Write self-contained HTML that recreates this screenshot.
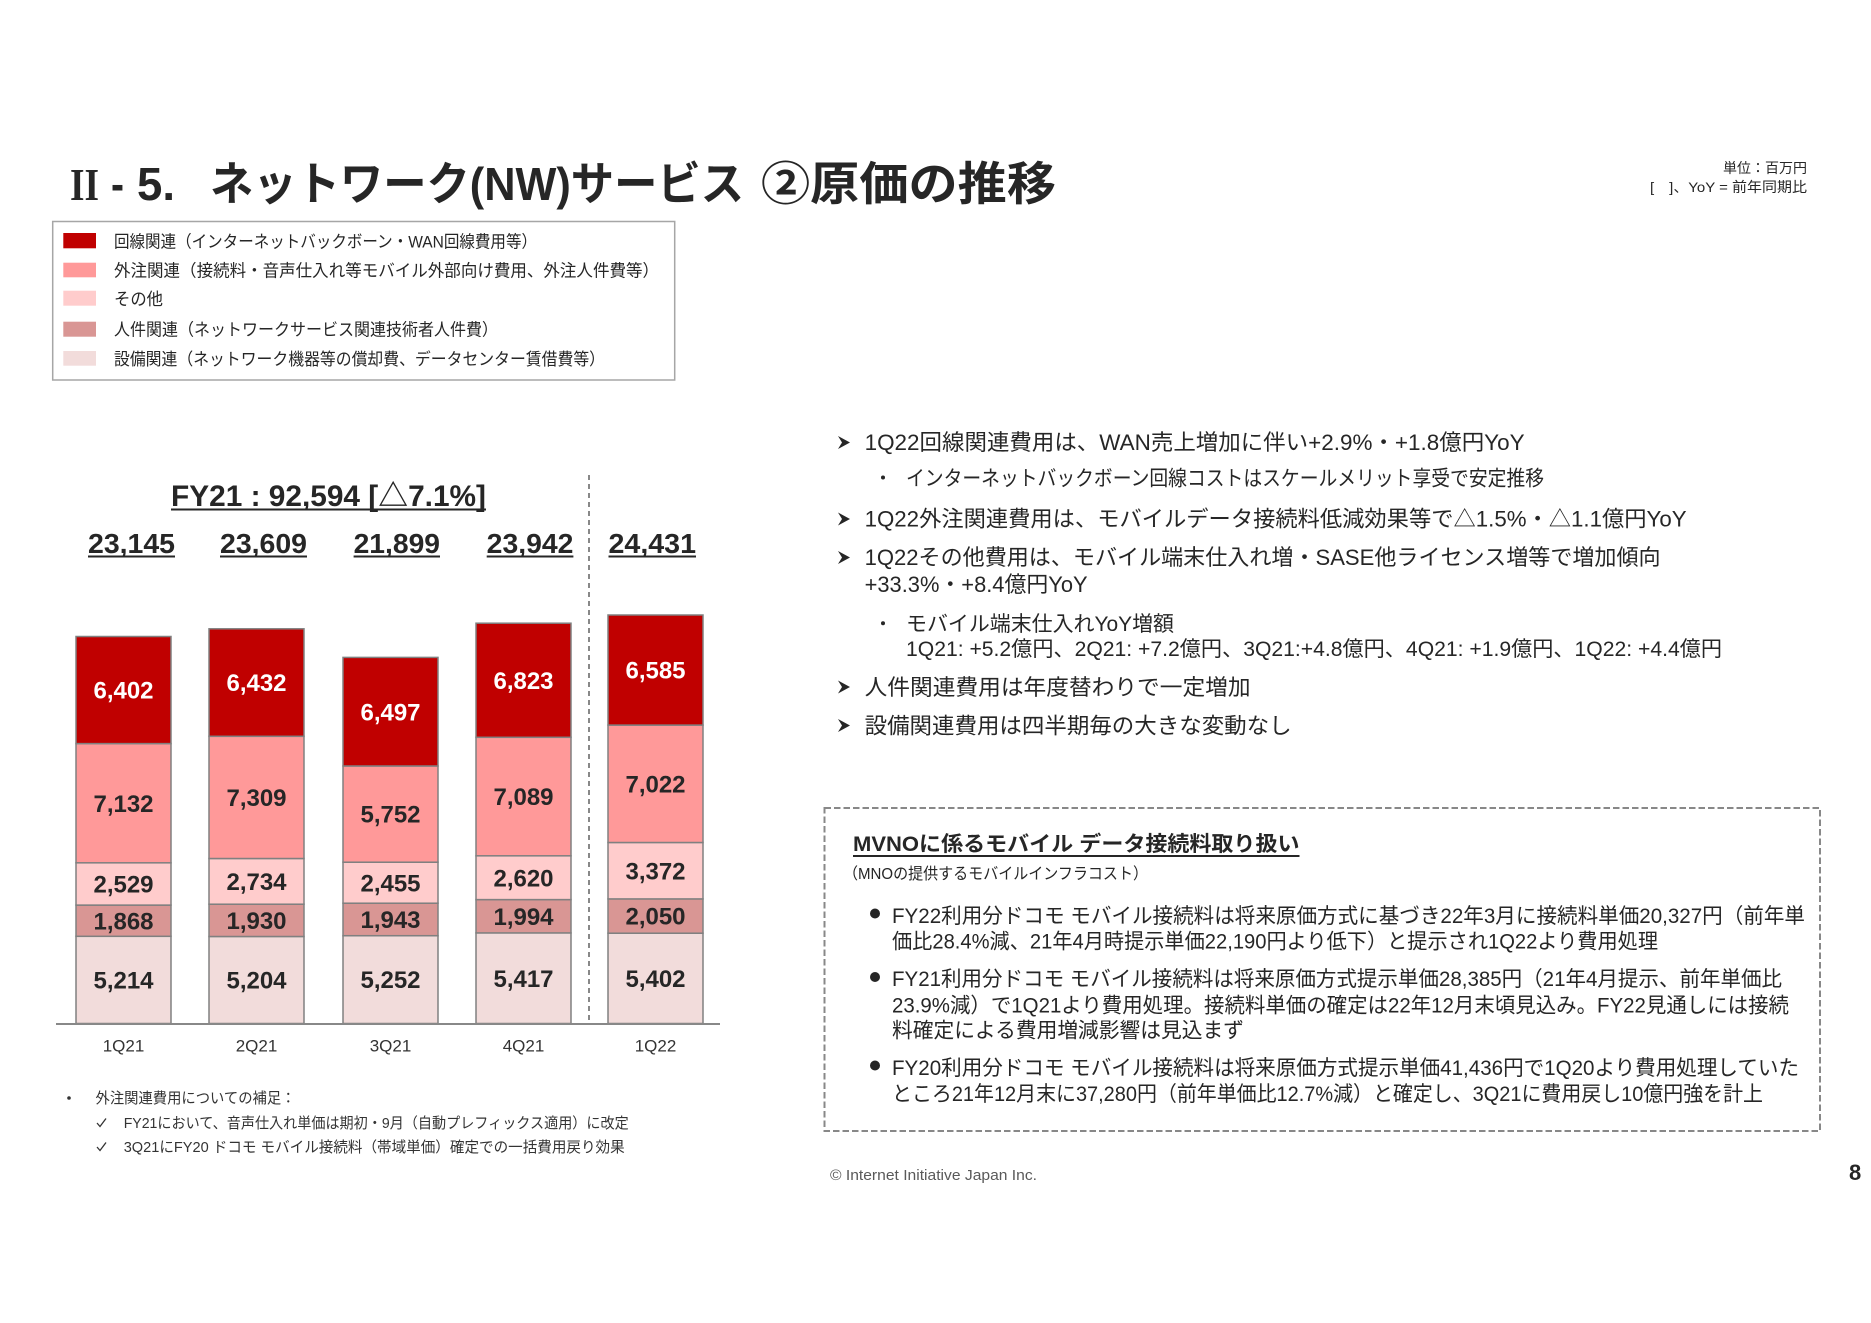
<!DOCTYPE html>
<html><head><meta charset="utf-8"><style>
html,body{margin:0;padding:0;background:#fff;}
svg{display:block;}
text{font-family:"Liberation Sans","Noto Sans CJK JP",sans-serif;fill:#262626;}
.b{font-weight:bold;}
.w{fill:#fff;}
</style></head><body>
<svg width="1871" height="1323" viewBox="0 0 1871 1323" xmlns="http://www.w3.org/2000/svg">
<rect width="1871" height="1323" fill="#fff"/>

<!-- Title -->
<text x="70" y="200" font-size="46" class="b" textLength="29" lengthAdjust="spacingAndGlyphs" style="font-family:'Liberation Serif',serif">II</text>
<text x="111" y="200" font-size="46" class="b" textLength="13" lengthAdjust="spacingAndGlyphs">-</text>
<text x="137" y="200" font-size="46" class="b" textLength="38" lengthAdjust="spacingAndGlyphs">5.</text>
<text x="210" y="200" font-size="46" class="b" textLength="534" lengthAdjust="spacingAndGlyphs">ネットワーク(NW)サービス</text>
<text x="761" y="200" font-size="46" class="b" textLength="295" lengthAdjust="spacingAndGlyphs">②原価の推移</text>

<!-- Unit -->
<text x="1807" y="173" font-size="14" text-anchor="end" textLength="84" lengthAdjust="spacingAndGlyphs">単位：百万円</text>
<text x="1807" y="192" font-size="14" text-anchor="end" textLength="157" lengthAdjust="spacingAndGlyphs">[　]、YoY = 前年同期比</text>

<!-- Legend -->
<rect x="52.7" y="221.5" width="622" height="158.5" fill="#fff" stroke="#a6a6a6" stroke-width="1.5"/>
<rect x="63.3" y="233" width="32.7" height="15.3" fill="#C00000"/>
<rect x="63.3" y="262.7" width="32.7" height="14.6" fill="#FF9999"/>
<rect x="63.3" y="290.7" width="32.7" height="15" fill="#FFCCCC"/>
<rect x="63.3" y="321.7" width="32.7" height="15" fill="#D99694"/>
<rect x="63.3" y="351" width="32.7" height="14.7" fill="#F2DCDB"/>
<text x="114" y="247.5" font-size="17" textLength="423" lengthAdjust="spacingAndGlyphs">回線関連（インターネットバックボーン・WAN回線費用等）</text>
<text x="114" y="276.5" font-size="17" textLength="545" lengthAdjust="spacingAndGlyphs">外注関連（接続料・音声仕入れ等モバイル外部向け費用、外注人件費等）</text>
<text x="114" y="305" font-size="17" textLength="49" lengthAdjust="spacingAndGlyphs">その他</text>
<text x="114" y="335.5" font-size="17" textLength="384" lengthAdjust="spacingAndGlyphs">人件関連（ネットワークサービス関連技術者人件費）</text>
<text x="114" y="365" font-size="17" textLength="491" lengthAdjust="spacingAndGlyphs">設備関連（ネットワーク機器等の償却費、データセンター賃借費等）</text>

<!-- FY21 label -->
<text x="171" y="506" font-size="30" class="b" textLength="315" lengthAdjust="spacingAndGlyphs">FY21 : 92,594 [△7.1%]</text>
<line x1="171" y1="509.5" x2="486" y2="509.5" stroke="#262626" stroke-width="2"/>

<!-- Totals -->
<g font-size="28" class="b">
<text x="88" y="553" class="b" textLength="87" lengthAdjust="spacingAndGlyphs">23,145</text>
<text x="220" y="553" class="b" textLength="87" lengthAdjust="spacingAndGlyphs">23,609</text>
<text x="353.6" y="553" class="b" textLength="86.4" lengthAdjust="spacingAndGlyphs">21,899</text>
<text x="486.7" y="553" class="b" textLength="86.7" lengthAdjust="spacingAndGlyphs">23,942</text>
<text x="608.5" y="553" class="b" textLength="87.5" lengthAdjust="spacingAndGlyphs">24,431</text>
</g>
<g stroke="#262626" stroke-width="2">
<line x1="88" y1="556.5" x2="175" y2="556.5"/>
<line x1="220" y1="556.5" x2="307" y2="556.5"/>
<line x1="353.6" y1="556.5" x2="440" y2="556.5"/>
<line x1="486.7" y1="556.5" x2="573.4" y2="556.5"/>
<line x1="608.5" y1="556.5" x2="696" y2="556.5"/>
</g>

<!-- Dashed separator -->
<line x1="589" y1="475" x2="589" y2="1022" stroke="#888" stroke-width="2" stroke-dasharray="5 4"/>

<!-- Bars -->
<g stroke="#808080" stroke-width="1.5">
<rect x="76" y="936.3" width="95" height="87.2" fill="#F2DCDB"/>
<rect x="76" y="905.1" width="95" height="31.2" fill="#D99694"/>
<rect x="76" y="862.8" width="95" height="42.3" fill="#FFCCCC"/>
<rect x="76" y="743.6" width="95" height="119.2" fill="#FF9999"/>
<rect x="76" y="636.5" width="95" height="107.1" fill="#C00000"/>

<rect x="209" y="936.5" width="95" height="87" fill="#F2DCDB"/>
<rect x="209" y="904.2" width="95" height="32.3" fill="#D99694"/>
<rect x="209" y="858.5" width="95" height="45.7" fill="#FFCCCC"/>
<rect x="209" y="736.3" width="95" height="122.2" fill="#FF9999"/>
<rect x="209" y="628.8" width="95" height="107.5" fill="#C00000"/>

<rect x="343" y="935.7" width="95" height="87.8" fill="#F2DCDB"/>
<rect x="343" y="903.2" width="95" height="32.5" fill="#D99694"/>
<rect x="343" y="862.2" width="95" height="41" fill="#FFCCCC"/>
<rect x="343" y="766" width="95" height="96.2" fill="#FF9999"/>
<rect x="343" y="657.4" width="95" height="108.6" fill="#C00000"/>

<rect x="476" y="932.9" width="95" height="90.6" fill="#F2DCDB"/>
<rect x="476" y="899.6" width="95" height="33.3" fill="#D99694"/>
<rect x="476" y="855.8" width="95" height="43.8" fill="#FFCCCC"/>
<rect x="476" y="737.3" width="95" height="118.5" fill="#FF9999"/>
<rect x="476" y="623.2" width="95" height="114.1" fill="#C00000"/>

<rect x="608" y="933.2" width="95" height="90.3" fill="#F2DCDB"/>
<rect x="608" y="898.9" width="95" height="34.3" fill="#D99694"/>
<rect x="608" y="842.5" width="95" height="56.4" fill="#FFCCCC"/>
<rect x="608" y="725.1" width="95" height="117.4" fill="#FF9999"/>
<rect x="608" y="615" width="95" height="110.1" fill="#C00000"/>
</g>

<!-- Bar labels -->
<g font-size="24" text-anchor="middle">
<text x="123.5" y="988.5" class="b">5,214</text>
<text x="123.5" y="929.3" class="b">1,868</text>
<text x="123.5" y="892.6" class="b">2,529</text>
<text x="123.5" y="811.8" class="b">7,132</text>
<text x="123.5" y="698.6" class="b w">6,402</text>

<text x="256.5" y="988.6" class="b">5,204</text>
<text x="256.5" y="929" class="b">1,930</text>
<text x="256.5" y="890" class="b">2,734</text>
<text x="256.5" y="806" class="b">7,309</text>
<text x="256.5" y="691.2" class="b w">6,432</text>

<text x="390.5" y="988.2" class="b">5,252</text>
<text x="390.5" y="928" class="b">1,943</text>
<text x="390.5" y="891.3" class="b">2,455</text>
<text x="390.5" y="822.7" class="b">5,752</text>
<text x="390.5" y="720.3" class="b w">6,497</text>

<text x="523.5" y="986.8" class="b">5,417</text>
<text x="523.5" y="924.9" class="b">1,994</text>
<text x="523.5" y="886.3" class="b">2,620</text>
<text x="523.5" y="805.2" class="b">7,089</text>
<text x="523.5" y="688.9" class="b w">6,823</text>

<text x="655.5" y="987" class="b">5,402</text>
<text x="655.5" y="924.7" class="b">2,050</text>
<text x="655.5" y="879.3" class="b">3,372</text>
<text x="655.5" y="792.4" class="b">7,022</text>
<text x="655.5" y="678.7" class="b w">6,585</text>
</g>

<!-- Axis -->
<line x1="56" y1="1024" x2="720" y2="1024" stroke="#888" stroke-width="2"/>
<g font-size="17" text-anchor="middle">
<text x="123.5" y="1051.6" style="fill:#333">1Q21</text>
<text x="256.5" y="1051.6" style="fill:#333">2Q21</text>
<text x="390.5" y="1051.6" style="fill:#333">3Q21</text>
<text x="523.5" y="1051.6" style="fill:#333">4Q21</text>
<text x="655.5" y="1051.6" style="fill:#333">1Q22</text>
</g>

<!-- Footnotes -->
<circle cx="69" cy="1098" r="1.8" fill="#333"/>
<text x="95.5" y="1103" font-size="15" textLength="200" lengthAdjust="spacingAndGlyphs" style="fill:#333">外注関連費用についての補足：</text>
<path d="M97 1123 l3 3.5 l6 -8" fill="none" stroke="#333" stroke-width="1.3"/>
<text x="123.7" y="1128" font-size="15" textLength="505" lengthAdjust="spacingAndGlyphs" style="fill:#333">FY21において、音声仕入れ単価は期初・9月（自動プレフィックス適用）に改定</text>
<path d="M97 1147 l3 3.5 l6 -8" fill="none" stroke="#333" stroke-width="1.3"/>
<text x="123.7" y="1152" font-size="15" textLength="501" lengthAdjust="spacingAndGlyphs" style="fill:#333">3Q21にFY20 ドコモ モバイル接続料（帯域単価）確定での一括費用戻り効果</text>

<!-- Right bullets -->
<g fill="#262626">
<path d="M838 436 L850 442.5 L838 449 L842 442.5 Z"/>
<path d="M838 512.5 L850 519 L838 525.5 L842 519 Z"/>
<path d="M838 551 L850 557.5 L838 564 L842 557.5 Z"/>
<path d="M838 680.5 L850 687 L838 693.5 L842 687 Z"/>
<path d="M838 719 L850 725.5 L838 732 L842 725.5 Z"/>
<circle cx="883" cy="477.5" r="2"/>
<circle cx="883" cy="623.3" r="2"/>
</g>
<text x="864.6" y="450" font-size="22" textLength="660" lengthAdjust="spacingAndGlyphs">1Q22回線関連費用は、WAN売上増加に伴い+2.9%・+1.8億円YoY</text>
<text x="906" y="485.5" font-size="21" textLength="638" lengthAdjust="spacingAndGlyphs">インターネットバックボーン回線コストはスケールメリット享受で安定推移</text>
<text x="864.6" y="526.5" font-size="22" textLength="822" lengthAdjust="spacingAndGlyphs">1Q22外注関連費用は、モバイルデータ接続料低減効果等で△1.5%・△1.1億円YoY</text>
<text x="864.6" y="565" font-size="22" textLength="796" lengthAdjust="spacingAndGlyphs">1Q22その他費用は、モバイル端末仕入れ増・SASE他ライセンス増等で増加傾向</text>
<text x="864.6" y="592" font-size="22" textLength="223" lengthAdjust="spacingAndGlyphs">+33.3%・+8.4億円YoY</text>
<text x="906" y="631" font-size="21" textLength="268" lengthAdjust="spacingAndGlyphs">モバイル端末仕入れYoY増額</text>
<text x="906" y="656" font-size="21" textLength="816" lengthAdjust="spacingAndGlyphs">1Q21: +5.2億円、2Q21: +7.2億円、3Q21:+4.8億円、4Q21: +1.9億円、1Q22: +4.4億円</text>
<text x="864.6" y="695" font-size="22" textLength="386" lengthAdjust="spacingAndGlyphs">人件関連費用は年度替わりで一定増加</text>
<text x="864.6" y="733.5" font-size="22" textLength="427" lengthAdjust="spacingAndGlyphs">設備関連費用は四半期毎の大きな変動なし</text>

<!-- MVNO box -->
<rect x="824.5" y="808" width="995.5" height="323" fill="none" stroke="#888" stroke-width="2" stroke-dasharray="6.5 3"/>
<text x="853" y="851" font-size="21" class="b" textLength="446.5" lengthAdjust="spacingAndGlyphs">MVNOに係るモバイル データ接続料取り扱い</text>
<line x1="853" y1="856" x2="1299.5" y2="856" stroke="#262626" stroke-width="2"/>
<text x="843" y="879" font-size="16" textLength="305" lengthAdjust="spacingAndGlyphs">（MNOの提供するモバイルインフラコスト）</text>

<g fill="#262626">
<circle cx="875" cy="913.5" r="5"/>
<circle cx="875" cy="977" r="5"/>
<circle cx="875" cy="1065.5" r="5"/>
</g>
<text x="892" y="923" font-size="21" textLength="913" lengthAdjust="spacingAndGlyphs">FY22利用分ドコモ モバイル接続料は将来原価方式に基づき22年3月に接続料単価20,327円（前年単</text>
<text x="892" y="948.5" font-size="21" textLength="766" lengthAdjust="spacingAndGlyphs">価比28.4%減、21年4月時提示単価22,190円より低下）と提示され1Q22より費用処理</text>
<text x="892" y="986" font-size="21" textLength="890" lengthAdjust="spacingAndGlyphs">FY21利用分ドコモ モバイル接続料は将来原価方式提示単価28,385円（21年4月提示、前年単価比</text>
<text x="892" y="1012.5" font-size="21" textLength="897" lengthAdjust="spacingAndGlyphs">23.9%減）で1Q21より費用処理。接続料単価の確定は22年12月末頃見込み。FY22見通しには接続</text>
<text x="892" y="1037.5" font-size="21" textLength="352" lengthAdjust="spacingAndGlyphs">料確定による費用増減影響は見込まず</text>
<text x="892" y="1075" font-size="21" textLength="907" lengthAdjust="spacingAndGlyphs">FY20利用分ドコモ モバイル接続料は将来原価方式提示単価41,436円で1Q20より費用処理していた</text>
<text x="892" y="1101" font-size="21" textLength="871" lengthAdjust="spacingAndGlyphs">ところ21年12月末に37,280円（前年単価比12.7%減）と確定し、3Q21に費用戻し10億円強を計上</text>

<!-- Footer -->
<text x="830" y="1180" font-size="15" textLength="207" lengthAdjust="spacingAndGlyphs" style="fill:#595959">© Internet Initiative Japan Inc.</text>
<text x="1849" y="1180" font-size="22" class="b">8</text>
</svg>
</body></html>
